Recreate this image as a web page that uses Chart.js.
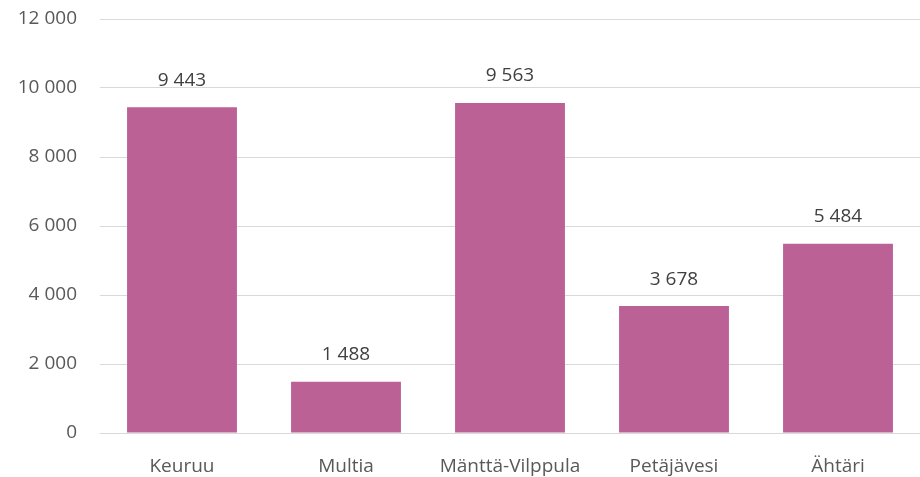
<!DOCTYPE html>
<html>
<head>
<meta charset="utf-8">
<script src="https://cdn.jsdelivr.net/npm/chart.js@4"></script>
<style>
  html, body { margin: 0; padding: 0; background: #fff; }
  #wrap { width: 920px; height: 477px; }
</style>
</head>
<body>
<div id="wrap"><canvas id="chart"></canvas></div>
<script>
const municipalities = ["Keuruu", "Multia", "Mänttä-Vilppula", "Petäjävesi", "Ähtäri"];
const population = [9443, 1488, 9563, 3678, 5484];
const yTicks = [0, 2000, 4000, 6000, 8000, 10000, 12000];

const fmt = (v) => String(v).replace(/\B(?=(\d{3})+(?!\d))/g, " ");

// value labels above each bar
const barLabels = {
  id: "barLabels",
  afterDatasetsDraw(chart) {
    const ctx = chart.ctx;
    const meta = chart.getDatasetMeta(0);
    ctx.save();
    ctx.font = "19px 'Open Sans', sans-serif";
    ctx.fillStyle = "#404040";
    ctx.textAlign = "center";
    ctx.textBaseline = "middle";
    meta.data.forEach((bar, i) => {
      ctx.fillText(fmt(population[i]), bar.x, bar.y - 27);
    });
    ctx.restore();
  },
};

new Chart(document.getElementById("chart"), {
  type: "bar",
  data: {
    labels: municipalities,
    datasets: [
      {
        data: population,
        backgroundColor: "#BC6196",
        categoryPercentage: 0.67,
        barPercentage: 1,
      },
    ],
  },
  options: {
    responsive: true,
    maintainAspectRatio: false,
    animation: false,
    layout: { padding: { top: 19, right: 0, left: 0, bottom: 0 } },
    plugins: { legend: { display: false }, tooltip: { enabled: false } },
    scales: {
      x: {
        grid: { display: false },
        border: { color: "#d9d9d9", width: 1 },
        ticks: {
          color: "#595959",
          font: { family: "'Open Sans', sans-serif", size: 19 },
          padding: 14,
        },
        afterFit: (scale) => { scale.height = 44; },
      },
      y: {
        min: 0,
        max: 12000,
        afterBuildTicks: (scale) => { scale.ticks = yTicks.map((v) => ({ value: v })); },
        grid: { color: "#d9d9d9", drawTicks: false },
        border: { display: false },
        ticks: {
          color: "#595959",
          font: { family: "'Open Sans', sans-serif", size: 19 },
          padding: 23,
          callback: (v) => fmt(v),
        },
        afterFit: (scale) => {
          scale.width = 100;
          scale.paddingTop = 0;
          scale.paddingBottom = 0;
        },
      },
    },
  },
  plugins: [barLabels],
});
</script>
</body>
</html>
